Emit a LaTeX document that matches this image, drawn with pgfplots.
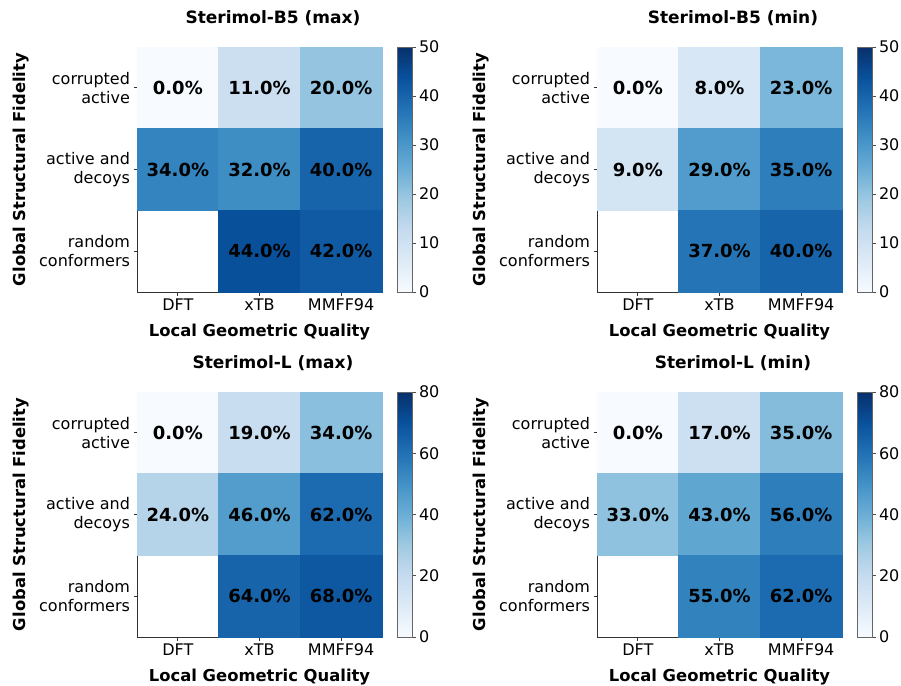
\documentclass[border=0pt]{standalone}
\usepackage{fontspec}
\setmainfont{DejaVu Sans}
\usepackage{pgfplots}
\pgfplotsset{compat=1.18}
\usepackage{pgfplotstable}

\pgfkeys{/pgf/number format/assume math mode=true}

% cell centres (x = method, y = row from top) and value in %
\pgfplotstableread{
x y v
0.5 0.5 0
1.5 0.5 11
2.5 0.5 20
0.5 1.5 34
1.5 1.5 32
2.5 1.5 40
1.5 2.5 44
2.5 2.5 42
}\bfivemax
\pgfplotstableread{
x y v
0.5 0.5 0
1.5 0.5 8
2.5 0.5 23
0.5 1.5 9
1.5 1.5 29
2.5 1.5 35
1.5 2.5 37
2.5 2.5 40
}\bfivemin
\pgfplotstableread{
x y v
0.5 0.5 0
1.5 0.5 19
2.5 0.5 34
0.5 1.5 24
1.5 1.5 46
2.5 1.5 62
1.5 2.5 64
2.5 2.5 68
}\slmax
\pgfplotstableread{
x y v
0.5 0.5 0
1.5 0.5 17
2.5 0.5 35
0.5 1.5 33
1.5 1.5 43
2.5 1.5 56
1.5 2.5 55
2.5 2.5 62
}\slmin

\newcommand{\tf}{\fontsize{16}{18.5}\selectfont}

\pgfplotsset{
  colormap={blues}{rgb255=(247,251,255) rgb255=(222,235,247) rgb255=(198,219,239)
    rgb255=(158,202,225) rgb255=(107,174,214) rgb255=(66,146,198)
    rgb255=(33,113,181) rgb255=(8,81,156) rgb255=(8,48,107)},
  heat/.style={
    scale only axis, width=245pt, height=245pt,
    anchor=north west,
    xmin=0, xmax=3, ymin=0, ymax=3, y dir=reverse,
    axis on top,
    axis line style={black!80, line width=0.8pt},
    xtick={0.5,1.5,2.5}, ytick={0.5,1.5,2.5},
    xticklabels={{\tf DFT},{\tf xTB},{\tf MMFF94}},
    yticklabels={{\tf corrupted\\\tf active},{\tf active and\\\tf decoys},
      {\tf random\\\tf conformers}},
    tick align=outside, xtick pos=bottom, ytick pos=left,
    major tick length=3.5pt,
    major tick style={black!80, line width=0.8pt},
    xticklabel style={font=\tf},
    yticklabel style={font=\tf, align=right},
    xlabel={Local Geometric Quality},
    ylabel={Global Structural Fidelity},
    xlabel style={font=\bfseries\fontsize{16.4}{19}\selectfont,
      at={(axis description cs:0.5,0)}, anchor=base, yshift=-44.7pt},
    ylabel style={font=\bfseries\fontsize{16.4}{19}\selectfont,
      at={(axis description cs:-0.457,0.5)}, anchor=base},
    title style={at={(0.555,1)}, anchor=base, yshift=18pt,
      font=\bfseries\fontsize{17}{20}\selectfont},
    colormap name=blues,
    point meta min=0,
  },
  cbar/.style={
    scale only axis, width=15pt, height=245pt,
    anchor=north west,
    xmin=0, xmax=1, ymin=0, ymax=#1,
    point meta min=0, point meta max=#1,
    colormap name=blues,
    axis on top,
    axis line style={black!60, line width=0.8pt},
    xtick=\empty, ytick pos=right, yticklabel pos=right,
    tick align=outside, major tick length=3.5pt,
    major tick style={black!70, line width=0.8pt},
    yticklabel={\tf\pgfmathprintnumber{\tick}},
    yticklabel style={font=\tf},
  },
  hmcell/.style={scatter, only marks, mark=square*, mark size=40.833pt,
    point meta=explicit,
    scatter/use mapped color={draw=mapped color, fill=mapped color}},
  hmtext/.style={draw=none, mark=none, point meta=explicit,
    nodes near coords={\pgfmathprintnumber[fixed,fixed zerofill,precision=1]{\pgfplotspointmeta}\%},
    nodes near coords align=center,
    every node near coord/.append style={anchor=center, text=black,
      font=\bfseries\fontsize{18}{20}\selectfont}},
  hmbar/.style={patch, patch type=rectangle, shader=interp, point meta=y},
}

\begin{document}
\begin{tikzpicture}
\useasboundingbox (0,0) rectangle (901pt,-685pt);

\begin{axis}[heat, at={(137pt,-47pt)}, title={Sterimol-B5 (max)}, point meta max=50]
  \addplot[hmcell] table[x=x, y=y, meta=v] {\bfivemax};
  \addplot[hmtext] table[x=x, y=y, meta=v] {\bfivemax};
\end{axis}
\begin{axis}[cbar=50, at={(397pt,-47pt)}, ytick={0,10,...,50}]
  \addplot[hmbar] coordinates {(0,0) (1,0) (1,50) (0,50)};
\end{axis}

\begin{axis}[heat, at={(597pt,-47pt)}, title={Sterimol-B5 (min)}, point meta max=50]
  \addplot[hmcell] table[x=x, y=y, meta=v] {\bfivemin};
  \addplot[hmtext] table[x=x, y=y, meta=v] {\bfivemin};
\end{axis}
\begin{axis}[cbar=50, at={(857pt,-47pt)}, ytick={0,10,...,50}]
  \addplot[hmbar] coordinates {(0,0) (1,0) (1,50) (0,50)};
\end{axis}

\begin{axis}[heat, at={(137pt,-392pt)}, title={Sterimol-L (max)}, point meta max=80]
  \addplot[hmcell] table[x=x, y=y, meta=v] {\slmax};
  \addplot[hmtext] table[x=x, y=y, meta=v] {\slmax};
\end{axis}
\begin{axis}[cbar=80, at={(397pt,-392pt)}, ytick={0,20,...,80}]
  \addplot[hmbar] coordinates {(0,0) (1,0) (1,80) (0,80)};
\end{axis}

\begin{axis}[heat, at={(597pt,-392pt)}, title={Sterimol-L (min)}, point meta max=80]
  \addplot[hmcell] table[x=x, y=y, meta=v] {\slmin};
  \addplot[hmtext] table[x=x, y=y, meta=v] {\slmin};
\end{axis}
\begin{axis}[cbar=80, at={(857pt,-392pt)}, ytick={0,20,...,80}]
  \addplot[hmbar] coordinates {(0,0) (1,0) (1,80) (0,80)};
\end{axis}
\end{tikzpicture}
\end{document}
